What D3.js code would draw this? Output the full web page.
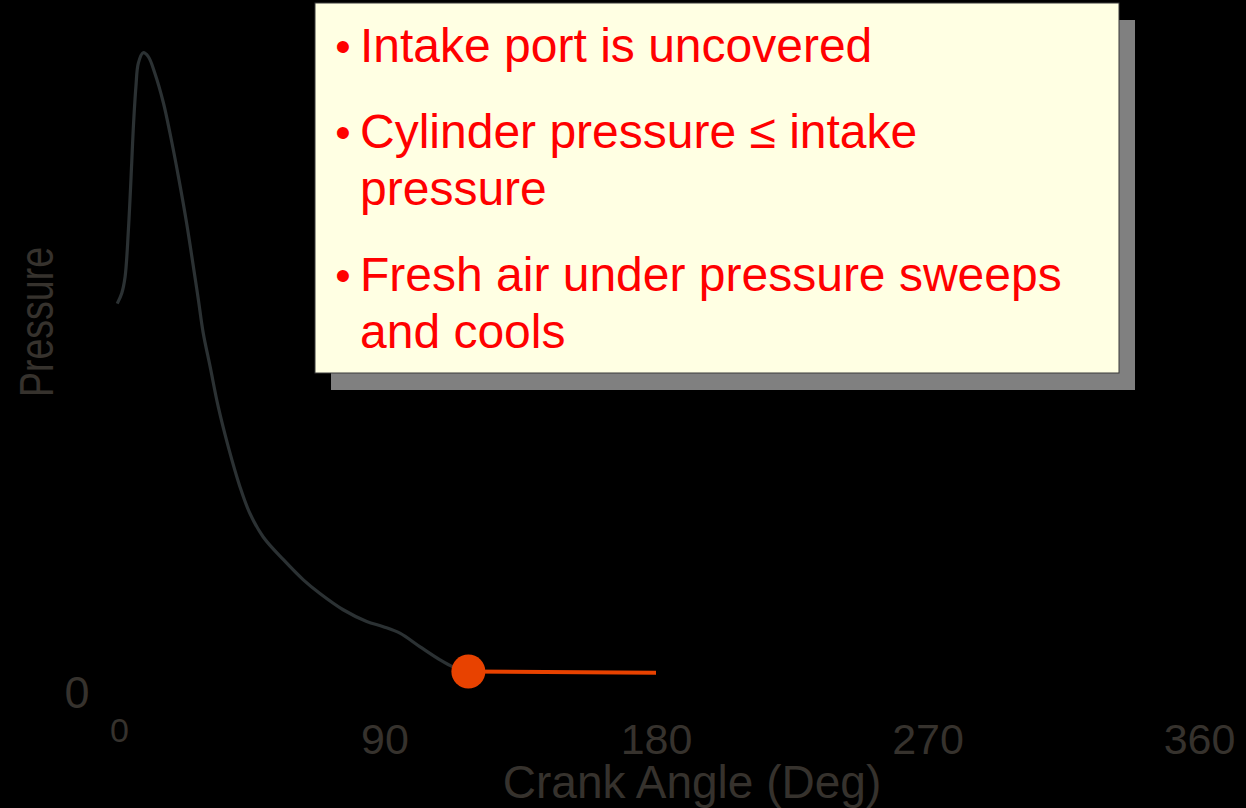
<!DOCTYPE html>
<html lang="en">
<head>
    <meta charset="UTF-8">
    <title>Two-stroke cycle - intake</title>
    <script src="https://d3js.org/d3.v7.min.js"></script>
    <style>
        body {
            margin: 0;
            background: #000;
        }
        svg {
            display: block;
            font-family: "Liberation Sans", Arial, sans-serif;
        }
        .tick-label {
            fill: #36322d;
        }
    </style>
</head>
<body>
<div id="chart"></div>

<script>
    const width = 1246;
    const height = 808;

    // crank angle (deg) and pressure (arbitrary units)
    const angles = [1.4, 2.9, 4.0, 5.1, 6.2, 6.7, 7.6, 8.4, 10.0, 11.7, 13.9, 16.7, 18.9, 21.7, 24.4, 26.8,
                    28.3, 29.9, 32.2, 34.9, 38.2, 42.1, 45.4, 49.8, 56.5, 63.1, 68.6, 76.3, 84.1, 89.6, 95.1,
                    101.8, 108.4, 112.8, 117.8];
    const pressures = [59.6, 61.2, 63.7, 70.9, 81.2, 86.3, 93.0, 96.6, 98.2, 97.6, 95.0, 90.5, 85.8, 79.1, 72.0, 64.8,
                       60.2, 55.1, 49.9, 43.7, 37.6, 31.4, 27.3, 23.7, 20.2, 17.1, 15.0, 12.5, 10.7, 9.9, 8.9,
                       6.8, 4.8, 3.7, 3.0];

    // intake phase (highlighted)
    const intakeAngles = [117.8, 180];
    const intakePressures = [3.0, 2.8];

    const xTicks = [0, 90, 180, 270, 360];
    const yTicks = [0];

    const notes = [
        ["Intake port is uncovered"],
        ["Cylinder pressure \u2264 intake", "pressure"],
        ["Fresh air under pressure sweeps", "and cools"]
    ];

    const svg = d3.select("#chart").append("svg")
        .attr("width", width)
        .attr("height", height);

    svg.append("rect")
        .attr("width", width)
        .attr("height", height)
        .attr("fill", "#000");

    const x = d3.scaleLinear().domain([0, 360]).range([113, 1199]);
    const y = d3.scaleLinear().domain([0, 100]).range([691, 41]);

    const curve = angles.map((a, i) => ({a: a, p: pressures[i]}));
    const intake = intakeAngles.map((a, i) => ({a: a, p: intakePressures[i]}));

    const line = d3.line()
        .x(d => x(d.a))
        .y(d => y(d.p))
        .curve(d3.curveCatmullRom.alpha(0.5));

    // pressure curve
    svg.append("path")
        .datum(curve)
        .attr("d", line)
        .attr("fill", "none")
        .attr("stroke", "#2b3133")
        .attr("stroke-width", 3.2);

    // intake segment + marker
    svg.append("path")
        .datum(intake)
        .attr("d", d3.line().x(d => x(d.a)).y(d => y(d.p)))
        .attr("fill", "none")
        .attr("stroke", "#e84200")
        .attr("stroke-width", 4);

    svg.append("circle")
        .attr("cx", x(intake[0].a))
        .attr("cy", y(intake[0].p))
        .attr("r", 17)
        .attr("fill", "#e84200");

    // x axis (labels only)
    const xAxis = svg.append("g")
        .attr("transform", `translate(0, ${y(0)})`)
        .call(d3.axisBottom(x).tickValues(xTicks).tickSize(0).tickFormat(d3.format("d")));
    xAxis.select(".domain").remove();
    xAxis.selectAll("text")
        .attr("class", "tick-label")
        .attr("dy", null)
        .attr("y", d => d === 0 ? 51 : 63)
        .attr("dx", d => d === 0 ? 6 : 0)
        .style("font-size", d => d === 0 ? "34px" : "43px")
        .style("font-family", "inherit");

    // y axis (labels only)
    const yAxis = svg.append("g")
        .attr("transform", "translate(77, 0)")
        .call(d3.axisLeft(y).tickValues(yTicks).tickSize(0).tickPadding(0));
    yAxis.select(".domain").remove();
    yAxis.selectAll("text")
        .attr("class", "tick-label")
        .attr("text-anchor", "middle")
        .attr("dy", "0.36em")
        .style("font-size", "45px")
        .style("font-family", "inherit");

    svg.append("text")
        .attr("class", "tick-label")
        .attr("x", 692)
        .attr("y", 798)
        .attr("text-anchor", "middle")
        .style("font-size", "46px")
        .text("Crank Angle (Deg)");

    svg.append("text")
        .attr("class", "tick-label")
        .attr("transform", "translate(53, 322) rotate(-90)")
        .attr("text-anchor", "middle")
        .attr("textLength", 150)
        .attr("lengthAdjust", "spacingAndGlyphs")
        .style("font-size", "48px")
        .text("Pressure");

    // callout box with shadow
    const box = {x: 315, y: 3, w: 804, h: 370};
    svg.append("rect")
        .attr("x", box.x + 16)
        .attr("y", box.y + 17)
        .attr("width", box.w)
        .attr("height", box.h)
        .attr("fill", "#808080");
    svg.append("rect")
        .attr("x", box.x)
        .attr("y", box.y)
        .attr("width", box.w)
        .attr("height", box.h)
        .attr("fill", "#ffffe3")
        .attr("stroke", "#3a3a3a")
        .attr("stroke-width", 1);

    const lines = [];
    let yPos = 62;
    notes.forEach((para, i) => {
        if (i > 0) yPos += 86;
        para.forEach((txt, j) => {
            if (j > 0) yPos += 57;
            lines.push({text: txt, y: yPos, bullet: j === 0});
        });
    });

    const noteG = svg.append("g").style("font-size", "48px").attr("fill", "#ff0000");
    noteG.selectAll("text.note")
        .data(lines)
        .join("text")
        .attr("class", "note")
        .attr("x", 360)
        .attr("y", d => d.y)
        .text(d => d.text);
    noteG.selectAll("text.bullet")
        .data(lines.filter(d => d.bullet))
        .join("text")
        .attr("class", "bullet")
        .attr("x", 343)
        .attr("y", d => d.y)
        .attr("text-anchor", "middle")
        .style("font-size", "44px")
        .text("\u2022");
</script>
</body>
</html>
